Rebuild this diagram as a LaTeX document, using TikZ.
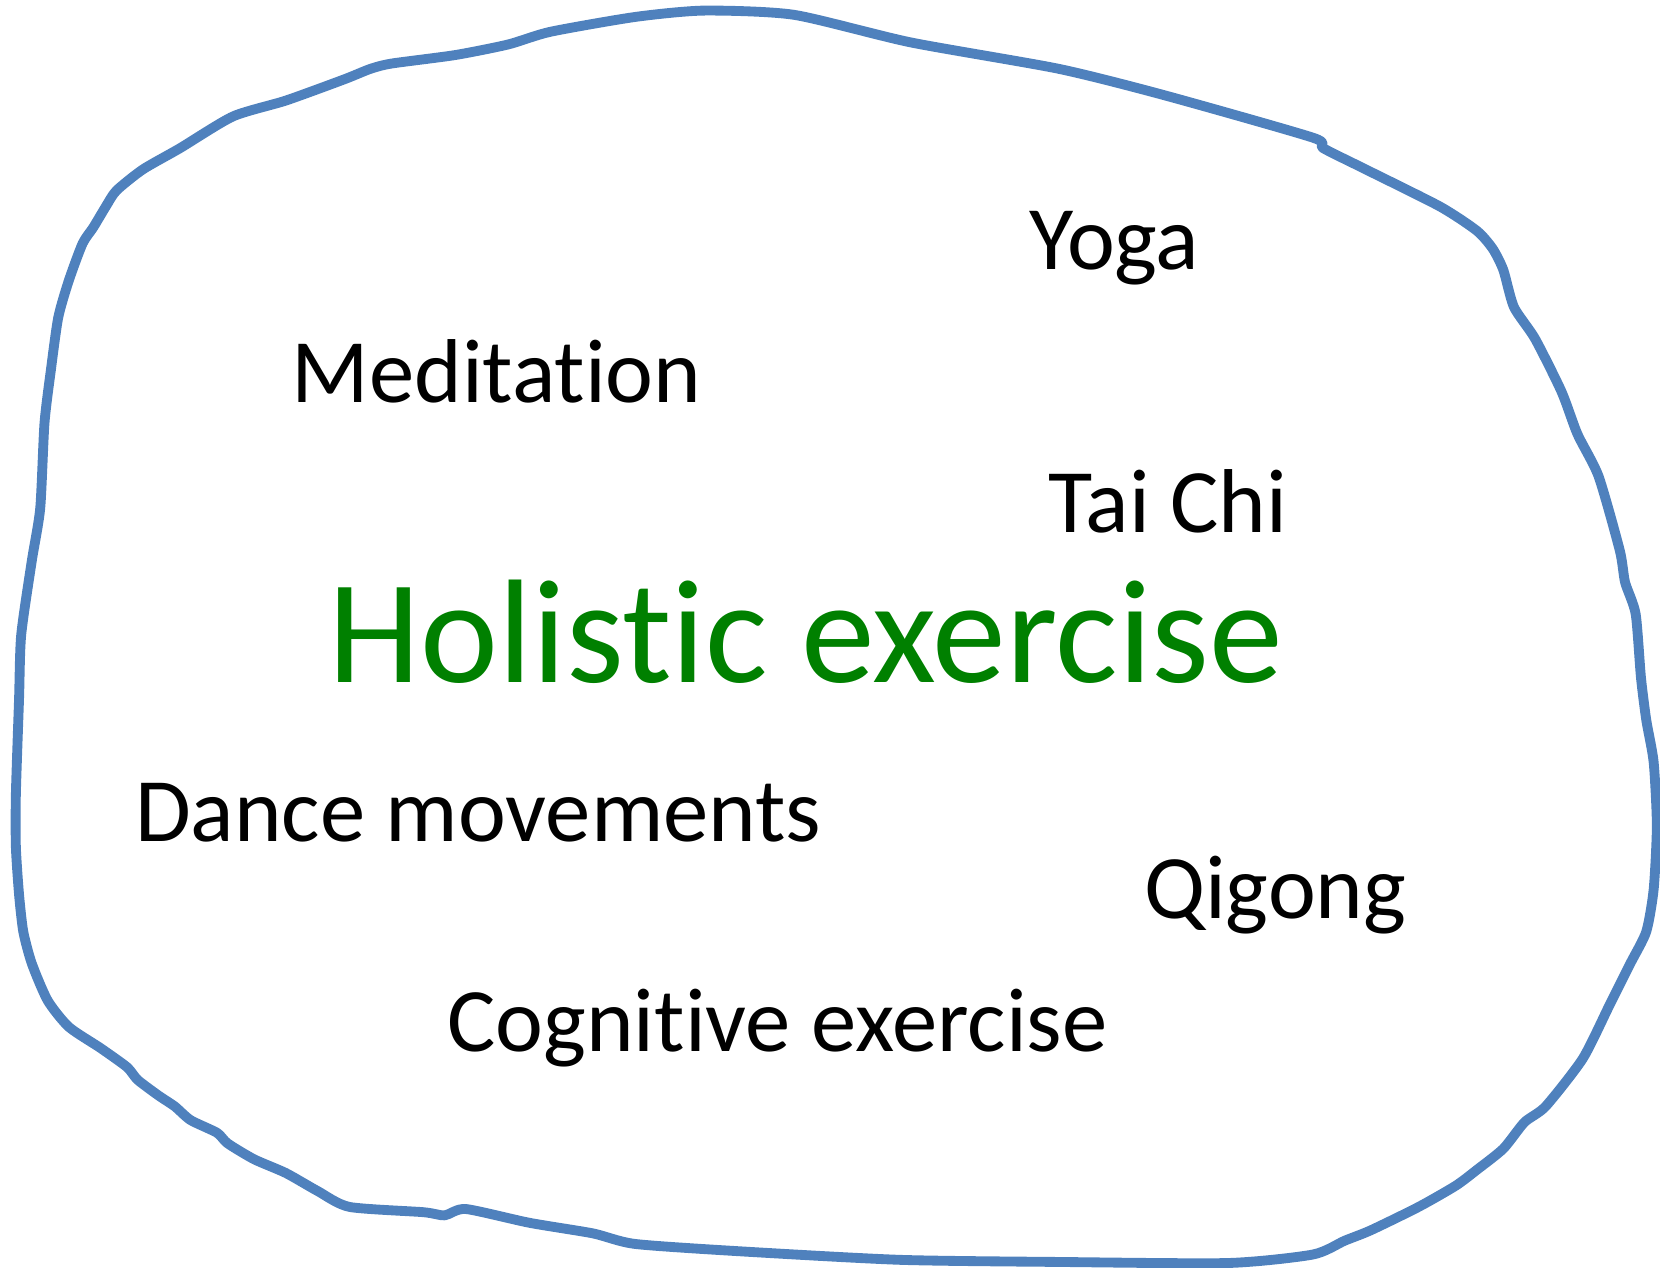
\documentclass[tikz,border=0pt]{standalone}
\usepackage{fontspec}
\setmainfont{Carlito}[Ligatures=NoCommon]
\usepackage{tikz}
\usetikzlibrary{positioning}
\definecolor{blobblue}{RGB}{79,129,189}
\definecolor{holgreen}{RGB}{0,128,0}
\tikzset{%
  blob/.style={draw=blobblue, line width=2.8pt, line join=round},% hand drawn outline
  word/.style={inner sep=0pt, anchor=base west, font=\fontsize{25.8}{30}\selectfont},% exercise types
  title/.style={word, text=holgreen, font=\fontsize{42}{48}\selectfont}% central label
}
\begin{document}
\begin{tikzpicture}[x=0.10587mm, y=-0.10587mm]
\useasboundingbox (0,0) rectangle (1568,1197);

\draw[blob] plot [smooth cycle, tension=0.4] coordinates {
  (665,10) (750,14) (860,40) (1000,65) (1100,90) (1240,130) (1250,140) (1290,160)
  (1360,195) (1395,218) (1410,235) (1420,255) (1430,290) (1450,320) (1475,370)
  (1490,410) (1510,450) (1530,520) (1535,550) (1545,580) (1550,640) (1555,680)
  (1562,720) (1565,780) (1562,840) (1555,880) (1540,910) (1520,950) (1495,1000)
  (1460,1045) (1440,1060) (1420,1085) (1395,1105) (1375,1120) (1340,1140)
  (1295,1162) (1270,1172) (1240,1185) (1160,1193) (1000,1192) (850,1190)
  (700,1182) (600,1175) (560,1165) (500,1155) (440,1142) (420,1148) (400,1145)
  (330,1140) (300,1125) (270,1108) (240,1095) (215,1080) (205,1070) (180,1058)
  (165,1045) (150,1035) (130,1020) (120,1008) (95,990) (65,970) (45,945) (30,910)
  (22,880) (18,845) (15,800) (15,750) (18,660) (20,600) (30,530) (38,480) (42,400)
  (48,350) (55,300) (65,265) (78,230) (88,215) (100,195) (110,180) (135,160)
  (170,140) (220,110) (270,95) (325,75) (350,65) (370,60) (430,52) (480,42)
  (520,30) (600,16) };

\node[word] (yoga) at (972,255) {Yoga};
\node[word] (meditation) at (275,380) {Meditation};
\node[word] (taichi) at (990,503) {Tai Chi};
\node[title] (holistic) at (310,645) {Holistic exercise};
\node[word] (dance) at (127,795) {Dance movements};
\node[word] (qigong) at (1080,868) {Qigong};
\node[word] (cognitive) at (422,993) {Cognitive exercise};

\end{tikzpicture}
\end{document}
